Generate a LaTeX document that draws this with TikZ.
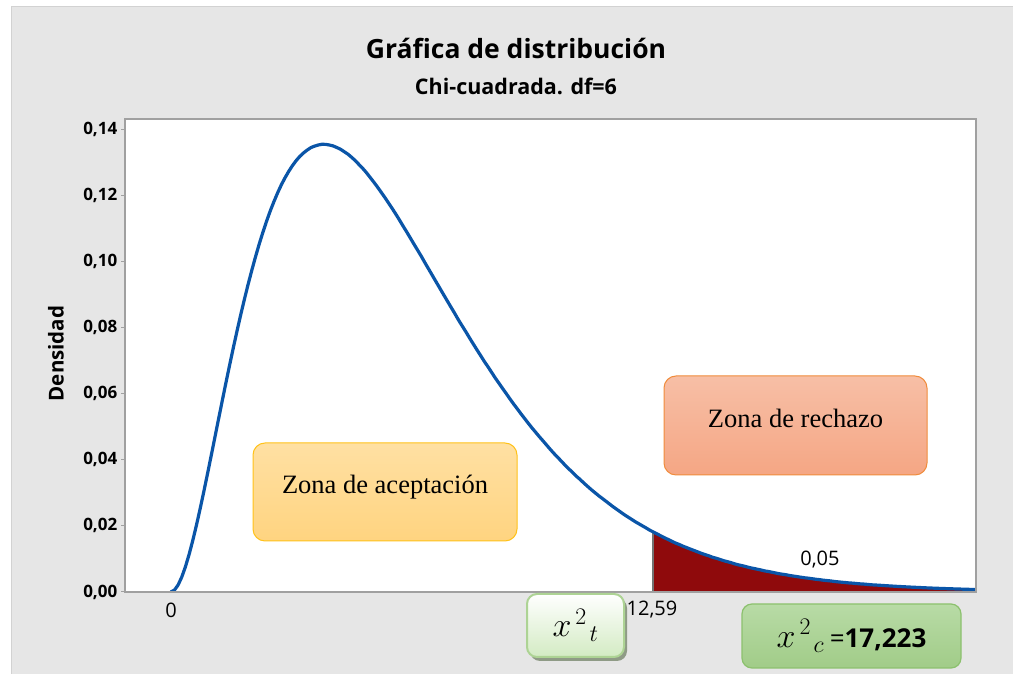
\RequirePackage{fix-cm}
\documentclass[tikz,border=0pt]{standalone}
\usepackage{fontspec}
\setmainfont{Open Sans}
\newfontfamily\tnr{Liberation Serif}
\usetikzlibrary{shadows}
\definecolor{bggray}{HTML}{E6E6E6}
\definecolor{bgedge}{HTML}{D2D2D2}
\definecolor{frame}{HTML}{A0A0A0}
\definecolor{curveblue}{HTML}{0A55A8}
\definecolor{tailred}{HTML}{8F0A0C}
\definecolor{acetop}{HTML}{FFE0A3}
\definecolor{acebot}{HTML}{FFD480}
\definecolor{aceedge}{HTML}{FFC21A}
\definecolor{rechtop}{HTML}{F7BFA6}
\definecolor{rechbot}{HTML}{F5A684}
\definecolor{rechedge}{HTML}{F08C3C}
\definecolor{tbot}{HTML}{D3EBC3}
\definecolor{tedge}{HTML}{ADD394}
\definecolor{tshadow}{HTML}{8F9B86}
\definecolor{ctop}{HTML}{B8DBA6}
\definecolor{cbot}{HTML}{A1CC88}
\definecolor{cedge}{HTML}{8CC16E}
\tikzset{
  zonebox/.style={rounded corners=12pt, line width=1pt, inner sep=0pt,
    font=\tnr\fontsize{26.5}{30}\selectfont, text height=12pt, text depth=8pt},
  ytick/.style={draw=frame, line width=1pt},
  ylab/.style={anchor=east, font=\bfseries\fontsize{17}{20}\selectfont, inner sep=0pt},
  xlab/.style={font=\fontsize{20}{24}\selectfont, inner sep=0pt},
}
\begin{document}
\begin{tikzpicture}[x=1pt,y=1pt]
\useasboundingbox (0,0) rectangle (1013,674);
\fill[white] (0,0) rectangle (1013,674);
\draw[draw=bgedge, fill=bggray] (11,-2) rectangle (1015,668);
% plot area
\fill[white] (125,82) rectangle (976,555);
\begin{scope}
\clip (125,82) rectangle (976,555);
\fill[tailred] (652.65,82) -- plot[domain=12.59:21.1, samples=80]
   ({170.7+38.28*\x},{82+206.69*(\x*exp(-\x/4))^2}) -- (976,82) -- cycle;
\draw[draw=gray!90!black, line width=2pt] (652.65,82) -- (652.65,{82+206.69*(12.59*exp(-12.59/4))^2});
\draw[curveblue, line width=3.2pt, line join=round] plot[domain=0:21.1, samples=220]
   ({170.7+38.28*\x},{82+206.69*(\x*exp(-\x/4))^2});
\end{scope}
\draw[frame, line width=1.2pt] (125,82) rectangle (976,555);
% y ticks
\foreach \k/\lab in {0/{0,00},1/{0,02},2/{0,04},3/{0,06},4/{0,08},5/{0,10},6/{0,12},7/{0,14}}{
  \draw[ytick] (121,{82+\k*66.14}) -- (125,{82+\k*66.14});
  \node[ylab] (yl\k) at (117.5,{82+\k*66.14}) {\lab};
}
% titles
\node[font=\bfseries\fontsize{26.5}{30}\selectfont] (title) at (516,626) {Gráfica de distribución};
\node[font=\bfseries\fontsize{21.5}{26}\selectfont] (subtitle) at (516,588) {Chi-cuadrada. df=6};
\node[rotate=90, font=\bfseries\fontsize{20.5}{24}\selectfont] (ylabel) at (56,320.5) {Densidad};
% x labels
\node[xlab] (x0) at (171,64) {0};
\node[xlab] (x1259) at (652,64) {12,59};
\node[xlab] (p05) at (820,114) {0,05};
% zone boxes
\node[zonebox, draw=aceedge, top color=acetop, bottom color=acebot,
      minimum width=264pt, minimum height=98pt] (acep) at (385,182) {Zona de aceptación};
\node[zonebox, draw=rechedge, top color=rechtop, bottom color=rechbot,
      minimum width=263pt, minimum height=99pt] (rech) at (795.5,248.5) {Zona de rechazo};
% chi boxes
\node[rounded corners=10pt, draw=tedge, line width=2pt, top color=white, bottom color=tbot,
      minimum width=97pt, minimum height=63pt, inner sep=0pt,
      drop shadow={shadow xshift=3pt, shadow yshift=-4pt, fill=tshadow, opacity=1}]
      (xt) at (575.5,48.5) {\fontsize{34}{38}\selectfont$x^{\mkern3mu 2}{}_{\mkern2mu t}$};
\node[rounded corners=10pt, draw=cedge, line width=1.2pt, top color=ctop, bottom color=cbot,
      minimum width=219pt, minimum height=64pt, inner sep=0pt]
      (xc) at (851.5,38) {\fontsize{34}{38}\selectfont$x^{\mkern3mu 2}{}_{\mkern2mu c}$\,{\fontsize{26}{30}\selectfont =\textbf{17,223}}};
\end{tikzpicture}
\end{document}
